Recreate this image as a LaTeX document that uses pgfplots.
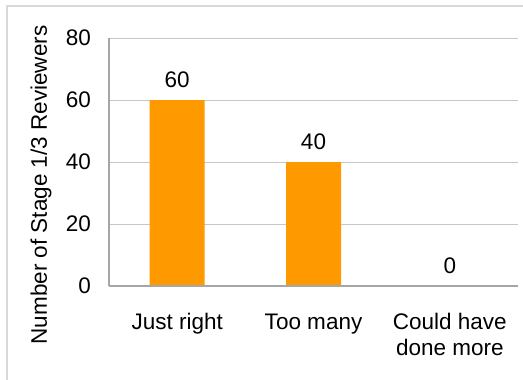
\documentclass[border=0pt]{standalone}
\usepackage{pgfplots}
\pgfplotsset{compat=1.18}
\usepackage{fontspec}
\setmainfont{Liberation Sans}
\definecolor{barorange}{HTML}{FF9900}
\definecolor{gridgray}{HTML}{C6C6C6}
\definecolor{axisgray}{HTML}{A6A6A6}
\definecolor{framegray}{HTML}{D9D9D9}
\newcommand{\chartfont}{\fontsize{22.5bp}{26bp}\selectfont}
\begin{document}
\begin{tikzpicture}[x=1bp,y=1bp]
\useasboundingbox (0,0) rectangle (523,379);
% outer chart frame (right and bottom edges fall outside the page)
\draw[framegray, line width=1.2bp] (7,-10) -- (7,373) -- (540,373);
% vertical axis title
\node[rotate=90, font=\chartfont] at (41,194) {Number of Stage 1/3 Reviewers};
\begin{axis}[
  at={(109bp,93bp)}, anchor=south west,
  scale only axis, width=409bp, height=248bp,
  ymin=0, ymax=80, ytick={0,20,40,60,80},
  xmin=-0.5, xmax=2.5,
  xtick={0,1,2}, xticklabels={Just right, Too many, Could have\\done more},
  x tick label style={align=center, font=\chartfont, yshift=-24bp},
  y tick label style={font=\chartfont, xshift=-14.5bp},
  /pgf/number format/assume math mode=true,
  major tick length=0pt,
  axis line style={draw=none},
  ymajorgrids, grid style={gridgray, line width=1bp},
  ybar, bar width=55bp,
  nodes near coords,
  every node near coord/.append style={font=\chartfont, black, yshift=9bp},
  clip=false,
]
\addplot[fill=barorange, draw=none] coordinates {(0,60) (1,40) (2,0)};
\draw[axisgray, line width=1.2bp] (rel axis cs:0,0) -- (rel axis cs:0,1);
\draw[axisgray, line width=1.4bp] (rel axis cs:0,0) -- (rel axis cs:1,0);
\end{axis}
\end{tikzpicture}
\end{document}
